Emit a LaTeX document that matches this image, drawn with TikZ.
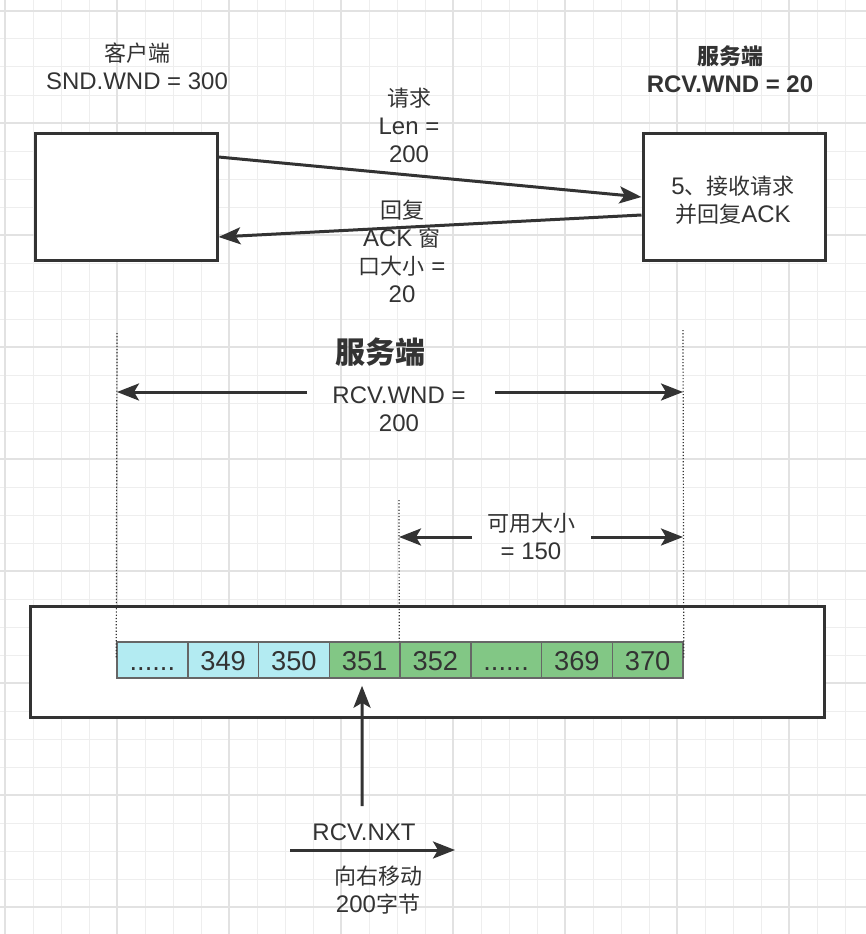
\documentclass[tikz,border=0pt]{standalone}
\usepackage{fontspec}
\setmainfont{Liberation Sans}[Scale=1.09]
\newfontfamily\cjk{Noto Sans CJK SC}
\usetikzlibrary{arrows.meta}

\definecolor{ink}{HTML}{333333}
\definecolor{cellblue}{HTML}{B3EBF2}
\definecolor{cellgreen}{HTML}{82C785}
\definecolor{gridminor}{HTML}{EEEEEE}
\definecolor{gridmajor}{HTML}{E2E2E2}
\newcommand{\sixdots}{......}

\tikzset{
  box/.style={draw=ink, line width=3pt, fill=white, inner sep=0pt},
  arr/.style={draw=ink, line width=3pt, -{Stealth[length=22pt,width=17pt,inset=5pt]}},
  lbl/.style={text=ink, align=center, inner sep=0pt, font=\fontsize{22}{28}\selectfont},
  guide/.style={draw=ink, line width=1.2pt, dash pattern=on 1.2pt off 2pt},
  cell/.style={draw=black!60, line width=1.5pt, minimum width=70.75pt, minimum height=36pt,
    inner sep=0pt, text height=21pt, text depth=0pt, text=ink, font=\fontsize{25}{30}\selectfont}
}

\begin{document}
\begin{tikzpicture}[x=1pt, y=-1pt]
\useasboundingbox (0,0) rectangle (866,934);

%drawing grid
\foreach \gx in {5,33,...,865} \draw[gridminor, line width=1pt] (\gx,0) -- (\gx,934);
\foreach \gy in {11,39,...,934} \draw[gridminor, line width=1pt] (0,\gy) -- (866,\gy);
\foreach \gx in {5,117,...,865} \draw[gridmajor, line width=1.3pt] (\gx,0) -- (\gx,934);
\foreach \gy in {11,123,...,934} \draw[gridmajor, line width=1.3pt] (0,\gy) -- (866,\gy);

%client and server
\node[lbl] (cltitle) at (137,66) {{\cjk 客户端}\\SND.WND = 300};
\node[lbl, font={\fontsize{22}{28}\selectfont\bfseries}] (srvtitle) at (730,69) {{\cjk 服务端}\\RCV.WND = 20};
\node[box, minimum width=182pt, minimum height=127pt] (client) at (126,196.5) {};
\node[box, minimum width=182pt, minimum height=127pt] (server) at (734,196.5) {};
\node[lbl] (srvtext) at (733,200) {5{\cjk 、接收请求}\\{\cjk 并回复}ACK};

%request and reply
\draw[arr] ([yshift=39.5pt]client.east) -- ([yshift=-0.5pt]server.west);
\draw[arr] ([yshift=-18.5pt]server.west) -- ([yshift=-40.5pt]client.east);
\node[lbl] (reqlbl) at (409,125) {{\cjk 请求}\\Len =\\200};
\node[lbl] (acklbl) at (402,251) {{\cjk 回复}\\ACK {\cjk 窗}\\{\cjk 口大小} =\\20};

%receive buffer
\node[box, minimum width=794pt, minimum height=111pt] (buffer) at (427,661.5) {};
\foreach \txt/\col [count=\i] in {\sixdots/cellblue,349/cellblue,350/cellblue,351/cellgreen,352/cellgreen,\sixdots/cellgreen,369/cellgreen,370/cellgreen}
  \node[cell, fill=\col] (c\i) at ({117+70.75*(\i-0.5)},660) {\txt};

%window markers
\coordinate (wndL) at (117,392);
\coordinate (wndR) at (683,392);
\coordinate (availL) at (399,537);
\coordinate (availR) at (683,537);
\draw[guide] (117,333) -- ([yshift=-18pt]c1.north west);
\draw[guide] (683,330) -- ([yshift=-18pt]c8.north east);
\draw[guide] (399,500) -- (c5.north west);

\node[lbl, font={\fontsize{30}{36}\selectfont\bfseries}] (bufttl) at (380,352) {\cjk 服务端};
\node[lbl] (wndlbl) at (399,409) {RCV.WND =\\200};
\draw[arr] (307,392) -- (wndL);
\draw[arr] (495,392) -- (wndR);

\node[lbl] (availlbl) at (531,536) {{\cjk 可用大小}\\= 150};
\draw[arr] (472,537) -- (availL);
\draw[arr] (591,537) -- (availR);

%next pointer
\coordinate (nxtfoot) at (362,806);
\draw[arr] (nxtfoot) -- ([xshift=-2.6pt, yshift=-7pt]c4.south);
\node[lbl] (nxtlbl) at (364,832) {RCV.NXT};
\coordinate (moveA) at (290,850);
\coordinate (moveB) at (455,850);
\draw[arr] (moveA) -- (moveB);
\node[lbl] (movelbl) at (378,890) {{\cjk 向右移动}\\200{\cjk 字节}};
\end{tikzpicture}
\end{document}
